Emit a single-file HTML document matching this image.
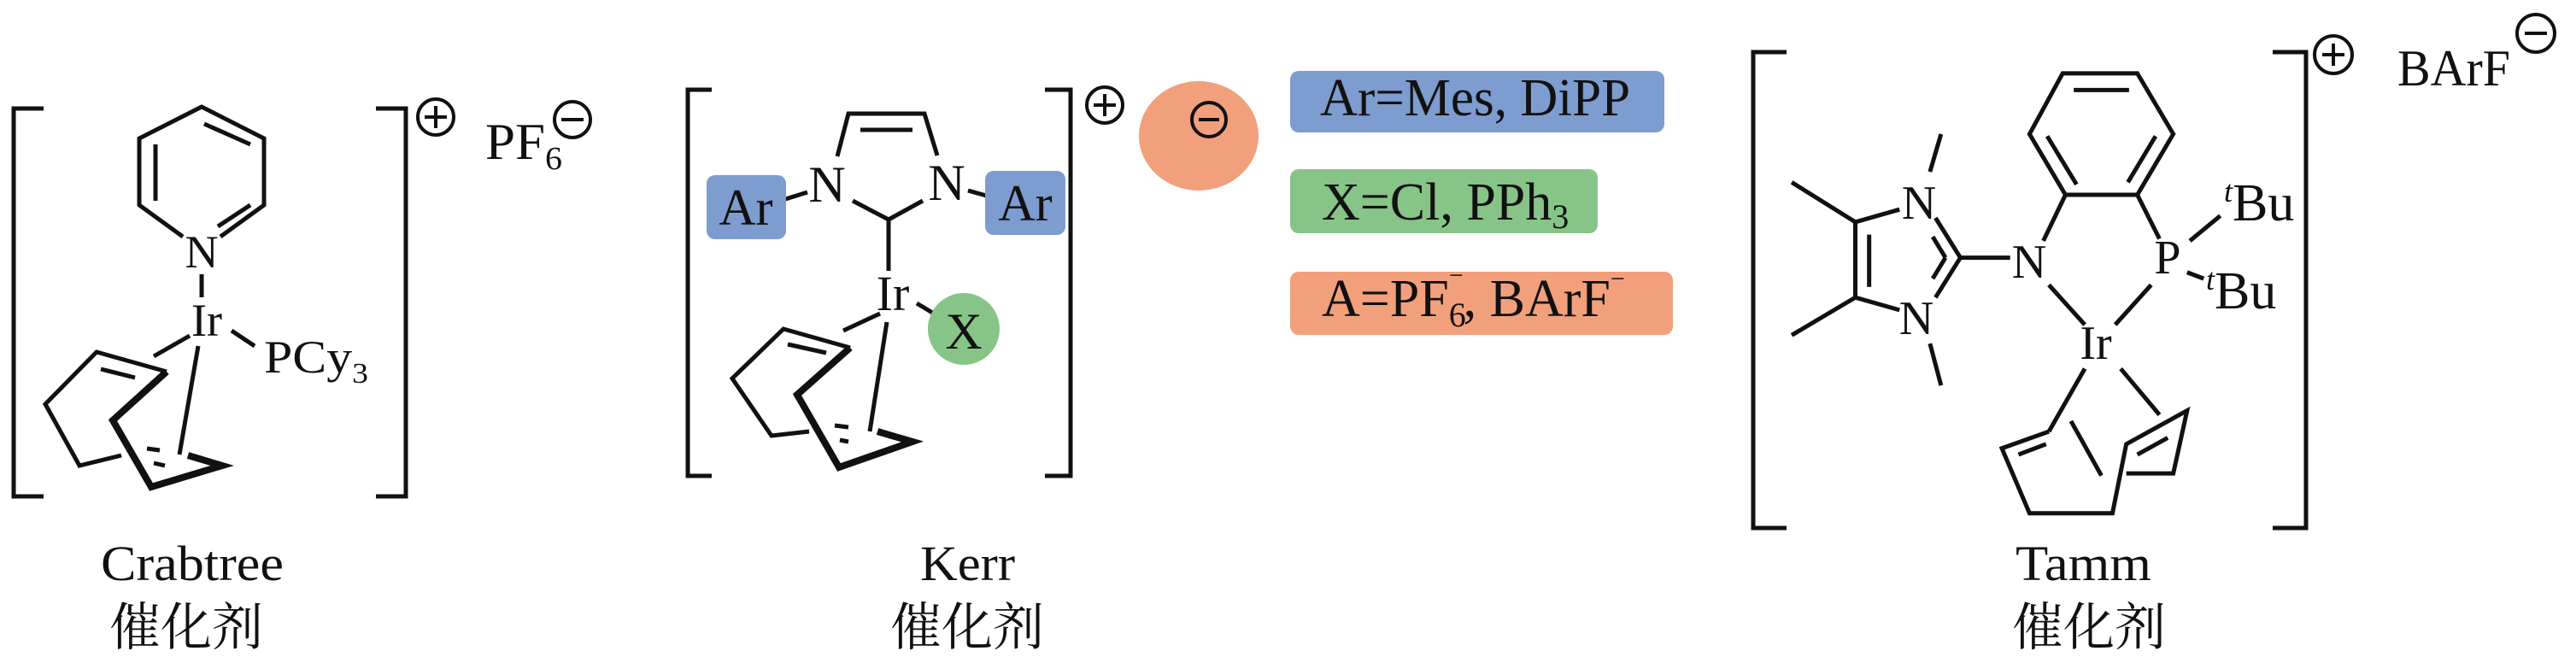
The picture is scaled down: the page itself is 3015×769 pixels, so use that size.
<!DOCTYPE html>
<html><head><meta charset="utf-8"><style>
html,body{margin:0;padding:0;background:#fff}
svg{display:block}
text{font-family:"Liberation Serif","Noto Serif CJK SC",serif;fill:#111}
.cjk{font-family:"Liberation Serif","Noto Serif CJK SC",serif}
</style></head><body>
<svg width="3015" height="769" viewBox="0 0 3015 769" xmlns="http://www.w3.org/2000/svg">
<g stroke="#111" stroke-width="5" fill="none" stroke-linecap="butt" stroke-linejoin="miter">
<polyline points="51,127 16,127 16,581 51,581"/>
<polyline points="440,127 475,127 475,581 440,581"/>
<polyline points="214,277 163,240 163,162 236,125 309,162 309,240 258,277"/>
<line x1="239" y1="145" x2="293" y2="169"/>
<line x1="182" y1="169" x2="182" y2="235"/>
<line x1="255" y1="265" x2="293" y2="240"/>
<line x1="236" y1="321" x2="236" y2="348"/>
<line x1="271" y1="387" x2="298" y2="405"/>
<line x1="180" y1="417" x2="222" y2="393"/>
<line x1="232" y1="405" x2="210" y2="532"/>
<polyline points="142,533 93,545 53,473 113,412 195,435"/>
<line x1="118" y1="432" x2="158" y2="442"/>
<polyline points="195,435 132,492 177,570 260,545 220,533" stroke-width="8"/>
<line x1="172" y1="525" x2="187" y2="527"/>
<line x1="180" y1="542" x2="193" y2="545"/>
<polyline points="833,105 805,105 805,557 833,557"/>
<polyline points="1223,105 1253,105 1253,557 1223,557"/>
<polyline points="980,183 993,133 1082,133 1097,182"/>
<line x1="1007" y1="152" x2="1068" y2="152"/>
<polyline points="998,235 1040,257 1080,235"/>
<line x1="1040" y1="257" x2="1040" y2="317"/>
<line x1="913" y1="235" x2="945" y2="225"/>
<line x1="1133" y1="223" x2="1165" y2="232"/>
<line x1="1073" y1="355" x2="1103" y2="373"/>
<line x1="987" y1="387" x2="1030" y2="367"/>
<line x1="1038" y1="377" x2="1018" y2="505"/>
<polyline points="947,505 903,510 857,443 917,385 995,407"/>
<line x1="922" y1="403" x2="967" y2="413"/>
<polyline points="995,407 933,462 982,547 1068,517 1027,505" stroke-width="8"/>
<line x1="977" y1="498" x2="993" y2="500"/>
<line x1="983" y1="515" x2="993" y2="517"/>
<polyline points="2091,61 2052,61 2052,618 2091,618"/>
<polyline points="2660,61 2699,61 2699,618 2660,618"/>
</g>
<g transform="translate(2000,0) scale(0.6472,0.4904)" stroke="#111" stroke-width="5" fill="none">
<polyline vector-effect="non-scaling-stroke" points="645,465 580,320 640,175 775,175 840,320 775,465 645,465"/>
<line vector-effect="non-scaling-stroke" x1="660" y1="215" x2="760" y2="215"/>
<line vector-effect="non-scaling-stroke" x1="612" y1="325" x2="665" y2="440"/>
<line vector-effect="non-scaling-stroke" x1="808" y1="325" x2="758" y2="435"/>
<line vector-effect="non-scaling-stroke" x1="645" y1="465" x2="605" y2="575"/>
<line vector-effect="non-scaling-stroke" x1="775" y1="465" x2="815" y2="570"/>
<line vector-effect="non-scaling-stroke" x1="870" y1="575" x2="925" y2="515"/>
<line vector-effect="non-scaling-stroke" x1="865" y1="650" x2="895" y2="665"/>
<line vector-effect="non-scaling-stroke" x1="615" y1="680" x2="680" y2="775"/>
<line vector-effect="non-scaling-stroke" x1="800" y1="680" x2="735" y2="775"/>
<line vector-effect="non-scaling-stroke" x1="680" y1="880" x2="615" y2="1030"/>
<line vector-effect="non-scaling-stroke" x1="745" y1="880" x2="815" y2="990"/>
<polyline vector-effect="non-scaling-stroke" points="615,1030 530,1070 580,1225 730,1225 755,1060 865,980 840,1130 755,1130"/>
<line vector-effect="non-scaling-stroke" x1="560" y1="1085" x2="610" y2="1060"/>
<line vector-effect="non-scaling-stroke" x1="775" y1="1085" x2="830" y2="1045"/>
<line vector-effect="non-scaling-stroke" x1="655" y1="1005" x2="710" y2="1135"/>
<polyline vector-effect="non-scaling-stroke" points="345,500 265,530 265,710 345,740"/>
<line vector-effect="non-scaling-stroke" x1="290" y1="560" x2="290" y2="685"/>
<line vector-effect="non-scaling-stroke" x1="410" y1="520" x2="455" y2="615"/>
<line vector-effect="non-scaling-stroke" x1="455" y1="615" x2="410" y2="710"/>
<line vector-effect="non-scaling-stroke" x1="405" y1="565" x2="428" y2="615"/>
<line vector-effect="non-scaling-stroke" x1="428" y1="615" x2="405" y2="665"/>
<line vector-effect="non-scaling-stroke" x1="455" y1="615" x2="545" y2="615"/>
<line vector-effect="non-scaling-stroke" x1="265" y1="530" x2="150" y2="435"/>
<line vector-effect="non-scaling-stroke" x1="265" y1="710" x2="150" y2="800"/>
<line vector-effect="non-scaling-stroke" x1="400" y1="410" x2="420" y2="320"/>
<line vector-effect="non-scaling-stroke" x1="400" y1="820" x2="420" y2="920"/>
</g>
<rect x="827" y="205" width="93" height="75" rx="10" fill="#7d9ccf"/>
<rect x="1153" y="200" width="94" height="75" rx="10" fill="#7d9ccf"/>
<circle cx="1128" cy="385" r="42" fill="#86c587"/>
<ellipse cx="1403" cy="159" rx="70" ry="64" fill="#f2a07c"/>
<rect x="1510" y="83" width="438" height="72" rx="10" fill="#7d9ccf"/>
<rect x="1510" y="198" width="360" height="75" rx="10" fill="#86c587"/>
<rect x="1510" y="318" width="448" height="74" rx="10" fill="#f2a07c"/>
<g stroke="#111" stroke-width="4" fill="none">
<circle cx="510" cy="137" r="21"/><line x1="497" y1="137" x2="523" y2="137"/><line x1="510" y1="124" x2="510" y2="150"/>
<circle cx="670" cy="140" r="21"/><line x1="657" y1="140" x2="683" y2="140"/>
<circle cx="1293" cy="123" r="21"/><line x1="1280" y1="123" x2="1306" y2="123"/><line x1="1293" y1="110" x2="1293" y2="136"/>
<circle cx="1415" cy="140" r="20"/><line x1="1403" y1="140" x2="1427" y2="140"/>
<circle cx="2731" cy="64" r="22"/><line x1="2718" y1="64" x2="2744" y2="64"/><line x1="2731" y1="51" x2="2731" y2="77"/>
<circle cx="2968" cy="39" r="22"/><line x1="2955" y1="39" x2="2981" y2="39"/>
</g>
<text x="236" y="313" font-size="54" text-anchor="middle">N</text>
<text x="242" y="393" font-size="54" text-anchor="middle">Ir</text>
<text x="309" y="436" font-size="54" textLength="122" lengthAdjust="spacingAndGlyphs">PCy<tspan font-size="34" dy="12">3</tspan></text>
<text x="568" y="186" font-size="60" textLength="90" lengthAdjust="spacingAndGlyphs">PF<tspan font-size="38" dy="12">6</tspan></text>
<text x="118" y="679" font-size="58" textLength="214" lengthAdjust="spacingAndGlyphs">Crabtree</text>
<text x="218" y="755" font-size="60" text-anchor="middle" class="cjk">催化剂</text>
<text x="968" y="236" font-size="60" text-anchor="middle">N</text>
<text x="1108" y="234" font-size="60" text-anchor="middle">N</text>
<text x="873" y="263" font-size="60" text-anchor="middle">Ar</text>
<text x="1200" y="258" font-size="60" text-anchor="middle">Ar</text>
<text x="1045" y="363" font-size="58" text-anchor="middle">Ir</text>
<text x="1128" y="408" font-size="60" text-anchor="middle">X</text>
<text x="1545" y="135" font-size="62" textLength="363" lengthAdjust="spacingAndGlyphs">Ar=Mes, DiPP</text>
<text x="1547" y="257" font-size="62">X=Cl, PPh<tspan font-size="40" dy="10">3</tspan></text>
<text x="1547" y="370" font-size="62">A=PF<tspan font-size="40" dy="12">6</tspan><tspan font-size="30" dx="-20" dy="-50">−</tspan><tspan dy="38" font-size="62">, BArF</tspan><tspan font-size="30" dy="-34">−</tspan></text>
<text x="1077" y="679" font-size="58" textLength="111" lengthAdjust="spacingAndGlyphs">Kerr</text>
<text x="1132" y="755" font-size="60" text-anchor="middle" class="cjk">催化剂</text>
<text x="2246" y="256" font-size="56" text-anchor="middle">N</text>
<text x="2375" y="325" font-size="56" text-anchor="middle">N</text>
<text x="2243" y="391" font-size="56" text-anchor="middle">N</text>
<text x="2537" y="320" font-size="56" text-anchor="middle">P</text>
<text x="2603" y="258" font-size="62"><tspan font-size="36" font-style="italic" dy="-22">t</tspan><tspan dy="22">Bu</tspan></text>
<text x="2582" y="361" font-size="62"><tspan font-size="36" font-style="italic" dy="-22">t</tspan><tspan dy="22">Bu</tspan></text>
<text x="2453" y="420" font-size="56" text-anchor="middle">Ir</text>
<text x="2806" y="100" font-size="60" textLength="132" lengthAdjust="spacingAndGlyphs">BArF</text>
<text x="2359" y="679" font-size="58" textLength="159" lengthAdjust="spacingAndGlyphs">Tamm</text>
<text x="2445" y="755" font-size="60" text-anchor="middle" class="cjk">催化剂</text>
</svg>
</body></html>
